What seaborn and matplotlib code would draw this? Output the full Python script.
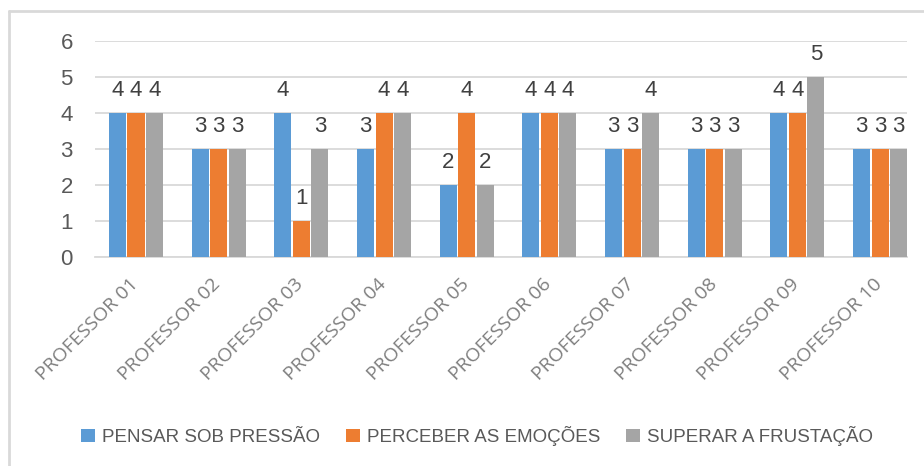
import matplotlib
matplotlib.use("Agg")
import matplotlib.pyplot as plt
from matplotlib.lines import Line2D
from matplotlib.patches import Patch
from matplotlib.transforms import ScaledTranslation
import pandas as pd
import seaborn as sns

# Chart data
professores = ["PROFESSOR 01", "PROFESSOR 02", "PROFESSOR 03", "PROFESSOR 04", "PROFESSOR 05",
               "PROFESSOR 06", "PROFESSOR 07", "PROFESSOR 08", "PROFESSOR 09", "PROFESSOR 10"]
series_names = ["PENSAR SOB PRESSÃO", "PERCEBER AS EMOÇÕES", "SUPERAR A FRUSTAÇÃO"]
pensar_sob_pressao = [4, 3, 4, 3, 2, 4, 3, 3, 4, 3]
perceber_emocoes = [4, 3, 1, 4, 4, 4, 3, 3, 4, 3]
superar_frustacao = [4, 3, 3, 4, 2, 4, 4, 3, 5, 3]
y_ticks = [0, 1, 2, 3, 4, 5, 6]

colors = ["#5B9BD5", "#ED7D31", "#A5A5A5"]

df = pd.DataFrame({
    "professor": professores * 3,
    "serie": [series_names[0]] * 10 + [series_names[1]] * 10 + [series_names[2]] * 10,
    "valor": pensar_sob_pressao + perceber_emocoes + superar_frustacao,
})

sns.set_theme(style="white")
plt.rcParams["font.family"] = ["Liberation Sans", "DejaVu Sans"]

W, H = 924, 466
fig = plt.figure(figsize=(W / 100, H / 100), dpi=100)
ax = fig.add_axes([95 / W, 1 - 257 / H, (907 - 95) / W, (257 - 41) / H])

sns.barplot(data=df, x="professor", y="valor", hue="serie", hue_order=series_names,
            order=professores, palette=colors, width=0.672, gap=0.08,
            saturation=1, legend=False, ax=ax, zorder=3, edgecolor="none")

ax.set_ylim(0, 6)
ax.set_xlim(-0.496, 9.326)
ax.set_yticks(y_ticks)
ax.set_yticklabels([str(t) for t in y_ticks])
ax.yaxis.grid(True, color="#D9D9D9", linewidth=1.3, zorder=0)
ax.set_axisbelow(True)
for side in ["top", "right", "left"]:
    ax.spines[side].set_visible(False)
ax.spines["bottom"].set_color("#D9D9D9")
ax.spines["bottom"].set_linewidth(1.3)
ax.tick_params(axis="both", length=0)
ax.tick_params(axis="y", labelsize=16, labelcolor="#595959", pad=16)
ax.set_xlabel("")
ax.set_ylabel("")

ax.set_xticks(range(len(professores)))
ax.set_xticklabels(professores, rotation=45, ha="right", rotation_mode="anchor",
                   fontsize=14, color="#7F7F7F", family=["Open Sans", "DejaVu Sans"])
ax.tick_params(axis="x", pad=15)
shift = ScaledTranslation(-7 / 100, 3 / 100, fig.dpi_scale_trans)
for lbl in ax.get_xticklabels():
    lbl.set_transform(lbl.get_transform() + shift)

# Value labels above every bar
for container in ax.containers:
    ax.bar_label(container, fmt="%d", padding=9, fontsize=16, color="#404040")

# Legend along the bottom
handles = [Patch(facecolor=c, edgecolor="none") for c in colors]
fig.legend(handles, series_names, loc="center", bbox_to_anchor=(477 / W, 1 - 436 / H),
           ncol=3, frameon=False, handlelength=0.75, handleheight=0.75, handletextpad=0.35,
           columnspacing=1.4, prop={"family": ["Liberation Sans", "DejaVu Sans"], "size": 13.5},
           labelcolor="#595959")

# Outer chart frame
fig.add_artist(Line2D([9 / W, 1.0], [1 - 11 / H, 1 - 11 / H], color="#D9D9D9", linewidth=2,
                      transform=fig.transFigure))
fig.add_artist(Line2D([9 / W, 9 / W], [0.0, 1 - 11 / H], color="#D9D9D9", linewidth=2,
                      transform=fig.transFigure))

fig.savefig("out.png", dpi=100, facecolor="white")
